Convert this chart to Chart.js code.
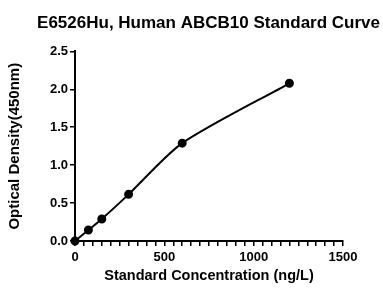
<!DOCTYPE html>
<html>
<head>
<meta charset="utf-8">
<script src="https://cdn.jsdelivr.net/npm/chart.js@4/dist/chart.umd.min.js"></script>
<style>
  html, body { margin: 0; padding: 0; background: #fff; }
  #chart { display: block; }
</style>
</head>
<body>
<canvas id="chart" width="383" height="289"></canvas>
<script>
  // standard curve
  var concentrations = [0, 75, 150, 300, 600, 1200];
  var densities = [0.0, 0.145, 0.29, 0.615, 1.29, 2.08];
  var xMajorTicks = [0, 500, 1000, 1500];
  var yTicks = [0.0, 0.5, 1.0, 1.5, 2.0, 2.5];

  var font = "'Liberation Sans', Arial, sans-serif";

  new Chart(document.getElementById("chart"), {
    type: "scatter",
    data: {
      datasets: [{
        data: concentrations.map(function (c, i) {
          return {x: c, y: densities[i]};
        }),
        showLine: true,
        borderColor: "#000",
        backgroundColor: "#000",
        borderWidth: 2,
        pointRadius: 3.5,
        pointHoverRadius: 3.5,
        tension: 0.25,
        clip: false
      }]
    },
    options: {
      responsive: false,
      animation: false,
      layout: {padding: {left: 6, right: 3, top: 6, bottom: 4}},
      plugins: {
        legend: {display: false},
        tooltip: {enabled: false},
        title: {
          display: true,
          align: "end",
          text: "E6526Hu, Human ABCB10 Standard Curve",
          color: "#000",
          font: {family: font, size: 17, weight: "bold"},
          padding: {top: 7, bottom: 18}
        }
      },
      scales: {
        x: {
          type: "linear",
          min: xMajorTicks[0],
          max: xMajorTicks[xMajorTicks.length - 1],
          afterFit: function (scale) { scale.height = 44; },
          border: {color: "#000", width: 2},
          grid: {drawOnChartArea: false, color: "#000", lineWidth: 1.5, tickLength: 5},
          ticks: {
            stepSize: 50,
            autoSkip: false,
            maxRotation: 0,
            color: "#000",
            padding: 4,
            font: {family: font, size: 13, weight: "bold"},
            callback: function (v) {
              return xMajorTicks.indexOf(v) >= 0 ? String(v) : "";
            }
          },
          title: {
            display: true,
            text: "Standard Concentration (ng/L)",
            color: "#000",
            font: {family: font, size: 14.5, weight: "bold"},
            padding: {top: 7, bottom: 0}
          }
        },
        y: {
          type: "linear",
          min: yTicks[0],
          max: yTicks[yTicks.length - 1],
          afterFit: function (scale) { scale.width = 69; },
          border: {color: "#000", width: 2},
          grid: {drawOnChartArea: false, color: "#000", lineWidth: 1.5, tickLength: 5},
          ticks: {
            stepSize: 0.5,
            color: "#000",
            padding: 2,
            font: {family: font, size: 13, weight: "bold"},
            callback: function (v) { return v.toFixed(1); }
          },
          title: {
            display: true,
            text: "Optical Density(450nm)",
            color: "#000",
            font: {family: font, size: 15, weight: "bold"},
            padding: {top: 0, bottom: 3}
          }
        },
        // empty right-hand gutter so the plot ends where the reference does
        gutter: {
          type: "linear",
          position: "right",
          afterFit: function (scale) { scale.width = 37; },
          border: {display: false},
          grid: {display: false},
          ticks: {display: false}
        }
      }
    }
  });
</script>
</body>
</html>
